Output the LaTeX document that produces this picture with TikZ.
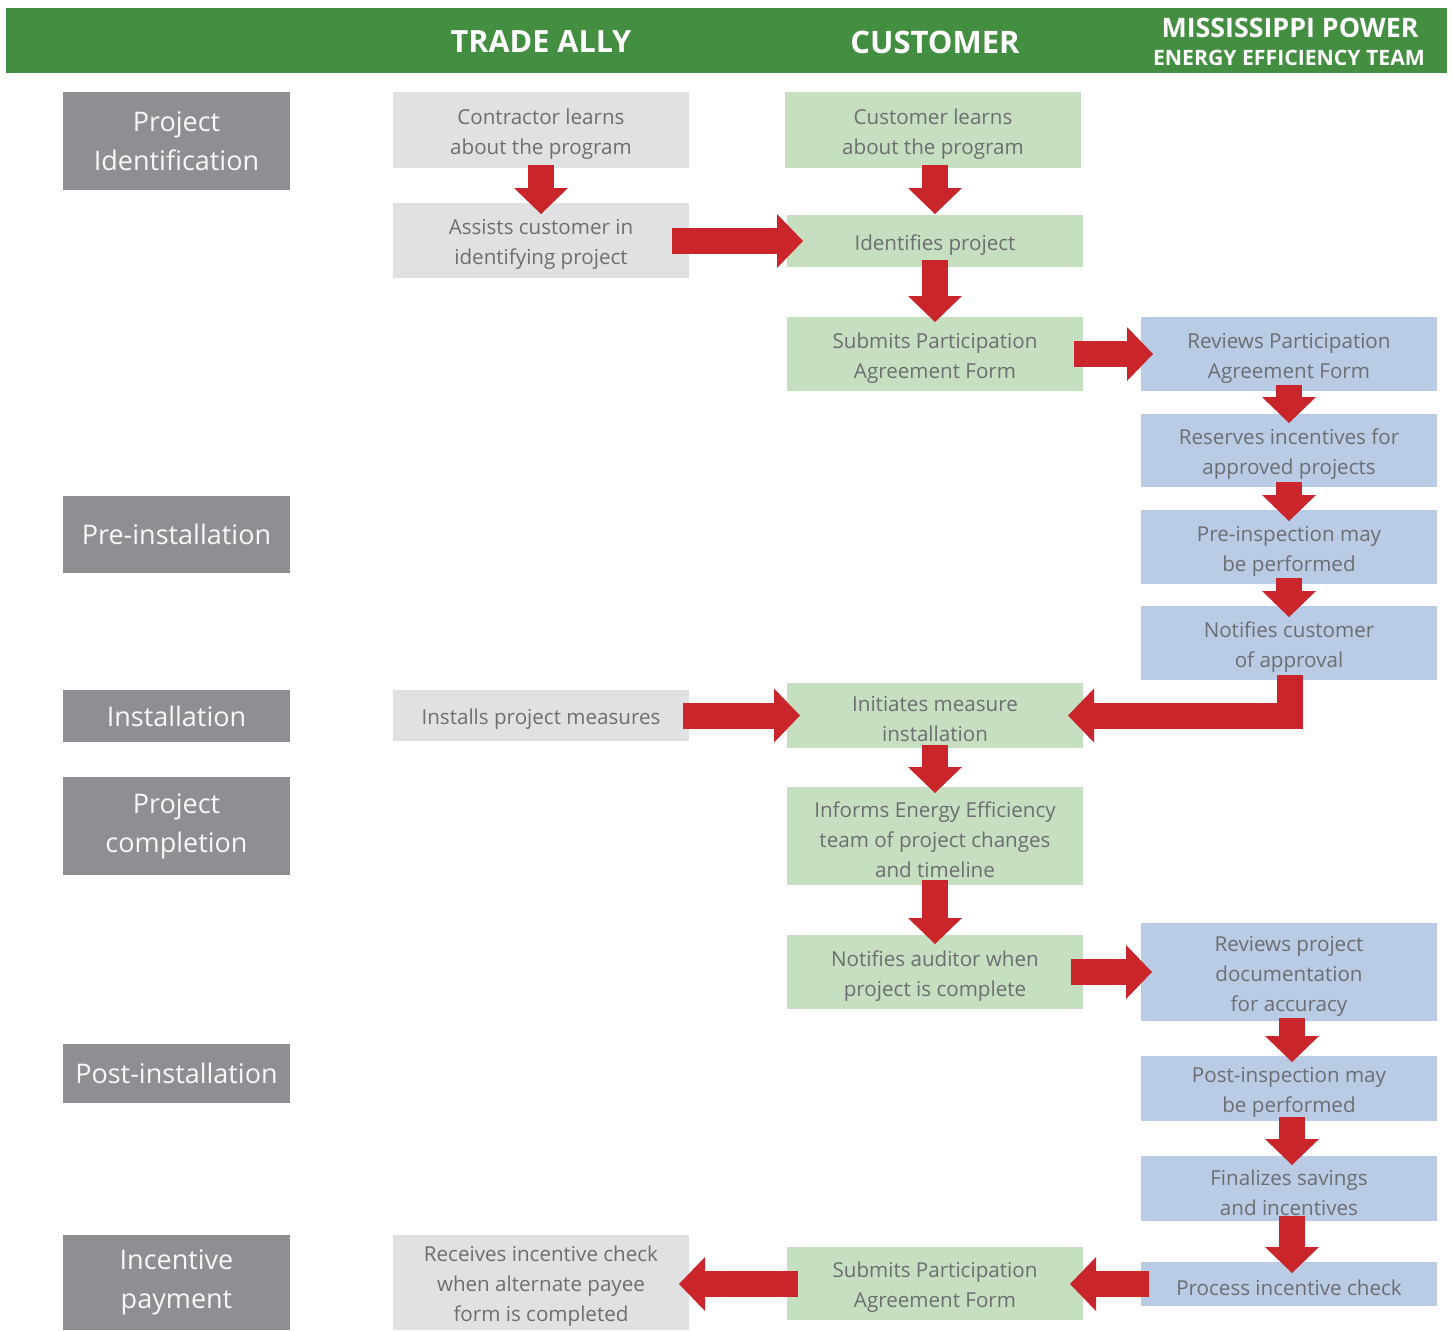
\documentclass[tikz,border=0pt]{standalone}
\usepackage{fontspec}
\setmainfont{Open Sans}
\usetikzlibrary{arrows.meta,calc}
\definecolor{hdrgreen}{HTML}{438E41}
\definecolor{arred}{HTML}{C9252B}
\definecolor{phgray}{HTML}{8E8F93}
\definecolor{tagray}{HTML}{E0E1E3}
\definecolor{cugreen}{HTML}{C6DFC0}
\definecolor{mpblue}{HTML}{B9CBE5}
\definecolor{txtgray}{HTML}{6D6E71}
\newcommand\bx[7]{\node[#6, minimum width={(#4-#2)*0.5pt}, minimum height={(#5-#3)*0.5pt}] (#1) at ({(#2+#4)/2},{(#3+#5)/2}) {};
  \node[txt, yshift=-2pt] (#1-t) at (#1.center) {#7};}
\newcommand\ph[6]{\node[#5, minimum width={(#4-#2)*0.5pt}, minimum height={(#5-#3)*0.5pt}] (#1) at ({(#2+#4)/2},{(#3+#5)/2}) {#6};}
\tikzset{
  base/.style={inner sep=0pt, outer sep=0pt, align=center},
  txt/.style={base, text=txtgray, font=\fontsize{10.3}{15}\selectfont},
  tabox/.style={base, fill=tagray},
  cubox/.style={base, fill=cugreen},
  mpbox/.style={base, fill=mpblue},
  phase/.style={base, fill=phgray, text=white!94!phgray, font=\fontsize{13.5}{19.5}\selectfont},
  hdrbar/.style={base, fill=hdrgreen},
  hdrtext/.style={base, text=white, font=\bfseries\fontsize{#1}{#1}\selectfont},
  bigarrow/.style={draw=arred, line width=13pt, line join=miter, -{Triangle[length=13pt,width=27pt,line width=0pt]}}
}
\begin{document}
\begin{tikzpicture}[x=0.5pt, y=-0.5pt]
\useasboundingbox (0,0) rectangle (1452,1330);
% header
\node[hdrbar, minimum width=720.5pt, minimum height=32.5pt] (hdr) at (726.5,40.5) {};
\node[hdrtext=15.3] (h1) at (541,42) {TRADE ALLY};
\node[hdrtext=15.5] (h2) at (935,42) {CUSTOMER};
\node[hdrtext=13.4] (h3) at (1290,28) {MISSISSIPPI POWER};
\node[hdrtext=10.6] (h4) at (1289,58) {ENERGY EFFICIENCY TEAM};
% phases
\node[phase, minimum width=113.5pt, minimum height=49pt] (ph1) at (176.5,141) {Project\\Identification};
\node[phase, minimum width=113.5pt, minimum height=38.5pt] (ph2) at (176.5,534.5) {Pre-installation};
\node[phase, minimum width=113.5pt, minimum height=26pt] (ph3) at (176.5,716) {Installation};
\node[phase, minimum width=113.5pt, minimum height=49pt] (ph4) at (176.5,826) {Project\\completion};
\node[phase, minimum width=113.5pt, minimum height=29.5pt] (ph5) at (176.5,1073.5) {Post-installation};
\node[phase, minimum width=113.5pt, minimum height=47.5pt] (ph6) at (176.5,1282.5) {Incentive\\payment};
% trade ally
\bx{ta1}{393}{92}{689}{168}{tabox}{Contractor learns\\about the program}
\bx{ta2}{393}{203}{689}{278}{tabox}{Assists customer in\\identifying project}
\bx{ta3}{393}{690}{689}{741}{tabox}{Installs project measures}
\bx{ta4}{393}{1235}{689}{1330}{tabox}{Receives incentive check\\when alternate payee\\form is completed}
% customer
\bx{cu1}{785}{92}{1081}{168}{cubox}{Customer learns\\about the program}
\bx{cu2}{787}{215}{1083}{267}{cubox}{Identifies project}
\bx{cu3}{787}{317}{1083}{391}{cubox}{Submits Participation\\Agreement Form}
\bx{cu4}{787}{683}{1083}{748}{cubox}{Initiates measure\\installation}
\bx{cu5}{787}{787}{1083}{885}{cubox}{Informs Energy Efficiency\\team of project changes\\and timeline}
\bx{cu6}{787}{935}{1083}{1009}{cubox}{Notifies auditor when\\project is complete}
\bx{cu7}{787}{1247}{1083}{1320}{cubox}{Submits Participation\\Agreement Form}
% mississippi power
\bx{mp1}{1141}{317}{1437}{391}{mpbox}{Reviews Participation\\Agreement Form}
\bx{mp2}{1141}{414}{1437}{487}{mpbox}{Reserves incentives for\\approved projects}
\bx{mp3}{1141}{510}{1437}{584}{mpbox}{Pre-inspection may\\be performed}
\bx{mp4}{1141}{606}{1437}{680}{mpbox}{Notifies customer\\of approval}
\bx{mp5}{1141}{923}{1437}{1021}{mpbox}{Reviews project\\documentation\\for accuracy}
\bx{mp6}{1141}{1056}{1437}{1121}{mpbox}{Post-inspection may\\be performed}
\bx{mp7}{1141}{1156}{1437}{1221}{mpbox}{Finalizes savings\\and incentives}
\bx{mp8}{1141}{1262}{1437}{1306}{mpbox}{Process incentive check}
% arrows
\draw[bigarrow] ($(ta1.south)+(0,-3)$) -- ($(ta2.north)+(0,11)$);
\draw[bigarrow] ($(cu2.north |- cu1.south)+(0,-3)$) -- ($(cu2.north)+(0,-1)$);
\draw[bigarrow] ($(ta2.east |- cu2.west)+(-17,0)$) -- ($(cu2.west)+(16,0)$);
\draw[bigarrow] ($(cu2.south)+(0,-7)$) -- ($(cu3.north)+(0,5)$);
\draw[bigarrow] ($(cu3.east)+(-9,0)$) -- ($(mp1.west)+(12,0)$);
\draw[bigarrow] ($(mp1.south)+(0,-6)$) -- ($(mp2.north)+(0,9)$);
\draw[bigarrow] ($(mp2.south)+(0,-5)$) -- ($(mp3.north)+(0,11)$);
\draw[bigarrow] ($(mp3.south)+(0,-6)$) -- ($(mp4.north)+(0,11)$);
\draw[bigarrow] ($(mp4.south)+(1,-5)$) |- ($(cu4.east)+(-15,0)$);
\draw[bigarrow] ($(ta3.east)+(-6,0)$) -- ($(cu4.west)+(13,0)$);
\draw[bigarrow] ($(cu4.south)+(0,-3)$) -- ($(cu5.north)+(0,6)$);
\draw[bigarrow] ($(cu5.south)+(0,-5)$) -- ($(cu6.north)+(0,9)$);
\draw[bigarrow] ($(cu6.east)+(-12,0)$) -- ($(mp5.west |- cu6.east)+(11,0)$);
\draw[bigarrow] ($(mp5.south)+(3,-3)$) -- ($(mp6.north)+(3,6)$);
\draw[bigarrow] ($(mp6.south)+(3,-4)$) -- ($(mp7.north)+(3,9)$);
\draw[bigarrow] ($(mp7.south)+(3,-5)$) -- ($(mp8.north)+(3,11)$);
\draw[bigarrow] ($(mp8.west)+(8,0)$) -- ($(cu7.east |- mp8.west)+(-13,0)$);
\draw[bigarrow] ($(cu7.west |- mp8.west)+(11,0)$) -- ($(ta4.east |- mp8.west)+(-10,0)$);
\end{tikzpicture}
\end{document}
